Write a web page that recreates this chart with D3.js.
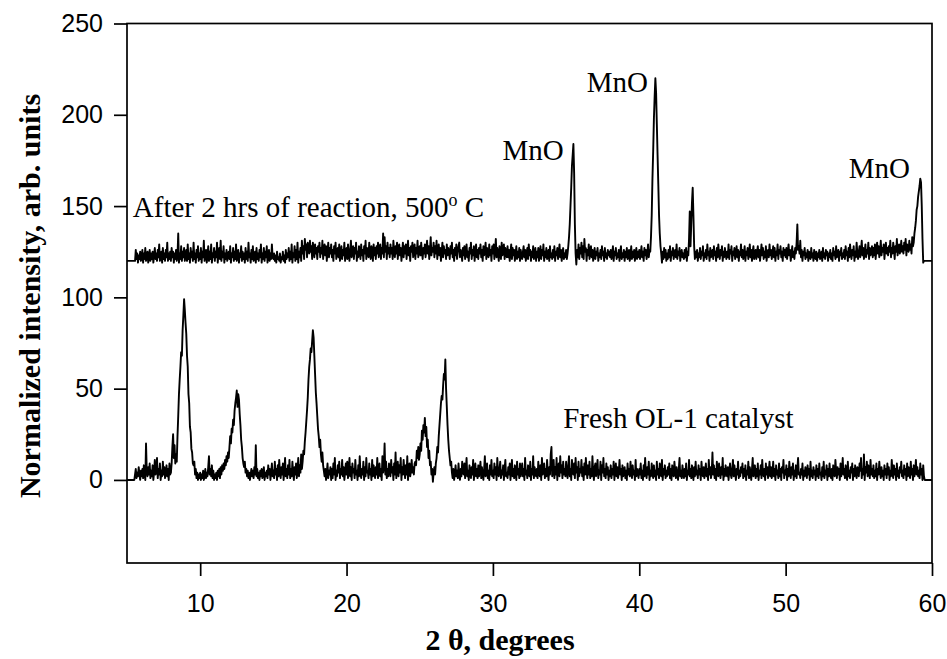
<!DOCTYPE html>
<html>
<head>
<meta charset="utf-8">
<script src="https://d3js.org/d3.v7.min.js"></script>
<style>
  body { margin: 0; background: #fff; }
  .tick text { font-family: "Liberation Sans", Arial, sans-serif; font-size: 25px; fill: #000; }
  .note { font-family: "Liberation Serif", "Times New Roman", serif; font-size: 29px; fill: #000; }
  .axis-title { font-family: "Liberation Serif", "Times New Roman", serif; font-size: 30px; font-weight: bold; fill: #000; }
</style>
</head>
<body>
<script>
// 2θ grid of the scans: 5.00 .. 60.00 in 0.05 degree steps, one row = one degree
const twoThetaStart = 5, twoThetaStep = 0.05;

// Fresh OL-1 catalyst (normalized intensity)
const freshCatalyst = [
  0,0,0,0,0,0,0,0,0,0,0,3,6,1,4,2,7,3,0,5,            // 5
  2,6,1,8,4,0,20,5,2,7,3,9,1,5,2,8,0,4,11,3,          // 6
  4,12,1,6,3,9,0,5,2,10,3,7,1,4,8,2,6,0,9,3,          // 7
  4,9,18,25,12,19,9,14,10,24,35,47,55,62,70,68,82,90,99,93, // 8
  86,80,68,62,47,42,29,26,17,15,9,8,10,3,6,1,4,0,3,1, // 9
  4,0,3,1,5,0,2,6,1,4,2,7,13,3,6,2,8,1,5,0,           // 10
  3,1,4,0,5,2,6,1,7,3,8,5,9,6,11,8,13,10,15,12,       // 11
  18,24,20,28,26,33,30,38,42,45,49,40,47,44,36,30,22,18,12,9, // 12
  7,10,4,6,2,5,1,4,0,3,6,2,5,1,7,3,19,2,6,1,          // 13
  4,0,5,2,6,1,3,7,0,4,2,5,1,8,3,6,0,4,9,2,            // 14
  5,1,10,3,6,0,8,2,11,4,1,7,3,9,0,5,12,2,6,1,         // 15
  8,3,11,1,6,2,10,4,0,7,3,9,1,5,12,2,8,4,14,6,        // 16
  10,16,14,21,26,32,38,45,55,62,66,72,70,76,82,78,68,58,48,42, // 17
  35,28,24,18,22,14,10,15,8,5,2,6,0,4,9,1,5,3,7,0,    // 18
  6,1,9,3,12,0,5,2,8,4,10,1,6,3,11,2,7,0,4,9,         // 19
  3,10,1,5,12,2,7,0,9,4,6,1,11,3,5,0,8,2,13,4,        // 20
  1,6,3,10,0,7,2,12,4,5,1,9,3,6,0,11,2,8,4,1,         // 21
  7,3,12,1,5,9,2,6,0,13,4,8,20,3,10,1,6,2,9,5,        // 22
  2,11,4,7,0,9,3,15,1,6,10,2,8,4,12,0,7,3,11,5,       // 23
  1,8,3,13,0,6,9,2,5,11,4,7,3,9,10,8,16,12,18,11,     // 24
  14,20,16,27,22,30,26,34,24,29,18,22,12,16,8,10,3,6,-1,4, // 25
  7,3,9,12,18,15,24,30,36,42,46,44,52,58,55,66,50,40,30,22, // 26
  16,12,8,10,4,1,6,0,3,8,2,5,1,9,3,0,6,2,10,4,        // 27
  3,9,1,6,12,2,5,0,8,4,1,7,3,11,0,5,9,2,6,1,          // 28
  8,2,5,10,1,7,3,0,6,13,2,4,9,1,5,0,8,3,11,2,         // 29
  5,1,9,3,7,0,12,4,2,6,10,1,5,3,8,0,6,11,2,4,         // 30
  1,7,3,9,0,5,11,2,6,1,8,4,0,10,3,6,1,9,2,5,          // 31
  9,2,6,0,12,3,5,1,8,4,2,10,0,6,3,13,1,7,4,2,         // 32
  6,1,10,4,2,8,0,12,3,5,9,1,6,2,11,4,0,7,3,14,        // 33
  18,2,5,11,1,7,3,12,0,6,9,2,13,4,8,1,10,3,6,2,       // 34
  10,4,1,8,13,2,6,0,11,5,3,9,1,12,4,7,0,10,2,6,       // 35
  4,11,2,7,0,9,3,12,5,1,8,3,10,1,6,2,13,4,0,7,        // 36
  9,2,6,11,1,5,3,10,0,8,4,12,2,6,1,9,3,7,0,5,         // 37
  2,8,1,6,3,10,0,5,9,2,7,1,4,11,3,6,0,8,2,5,          // 38
  7,1,5,0,9,3,6,2,10,4,1,8,3,5,0,11,2,6,4,1,          // 39
  6,3,9,1,5,0,8,2,12,4,1,7,3,10,0,5,2,9,4,1,          // 40
  8,2,5,0,10,3,6,1,9,4,2,11,0,6,3,8,1,5,2,7,          // 41
  3,9,1,6,0,8,4,2,10,5,1,7,3,0,6,12,2,5,1,8,          // 42
  4,1,6,2,9,0,5,3,11,2,6,1,8,4,0,7,2,10,3,5,          // 43
  1,8,3,6,0,10,4,2,7,1,5,9,2,6,0,11,3,7,1,4,          // 44
  15,3,8,1,6,0,10,4,2,9,5,1,7,3,12,0,6,2,8,4,         // 45
  2,7,0,5,9,3,1,6,11,2,8,4,0,6,3,10,1,5,2,7,          // 46
  4,9,1,6,2,8,0,5,3,10,1,7,4,0,6,12,2,5,8,1,          // 47
  6,2,9,0,5,3,8,1,11,4,2,6,0,9,3,7,1,5,10,2,          // 48
  7,1,4,10,2,6,0,8,3,5,1,9,2,6,0,7,4,11,1,5,          // 49
  3,8,0,6,2,10,4,1,7,3,9,0,5,2,8,1,6,12,3,4,          // 50
  1,6,3,9,0,5,2,7,4,1,8,3,6,0,10,2,5,1,7,3,           // 51
  5,0,8,2,6,1,9,3,4,0,7,2,10,1,5,3,8,0,6,2,           // 52
  9,3,1,6,0,8,4,2,11,5,1,7,3,6,0,9,2,5,12,3,          // 53
  6,1,8,3,0,10,2,5,1,7,4,9,0,6,2,8,3,1,7,4,           // 54
  2,9,5,12,1,6,3,14,0,7,4,10,2,8,5,1,11,3,6,2,        // 55
  8,1,5,2,9,0,6,3,10,4,1,7,2,5,0,8,3,6,1,9,           // 56
  3,7,0,5,2,11,4,1,8,3,6,0,9,2,5,1,7,4,10,2,          // 57
  5,1,8,3,6,0,9,2,7,4,1,10,3,6,0,8,2,5,11,3,          // 58
  7,2,5,1,9,3,6,0,8,2,0,0,0,0,0,0,0,0,0,0,            // 59
  0                                                   // 60
];

// After 2 hrs of reaction, 500 C (trace sits at 120 in the figure)
const afterReaction = [
  120,120,120,120,120,120,120,120,120,120,120,120,126,121,124,119,123,121,125,120, // 5
  122,126,119,124,121,127,120,123,125,119,122,126,120,124,121,125,119,123,127,121, // 6
  124,120,126,122,129,120,123,125,119,127,121,124,120,126,122,130,120,124,121,125, // 7
  120,127,122,125,119,124,121,126,120,123,135,119,124,121,128,120,125,122,127,120, // 8
  123,126,120,129,121,124,119,127,122,125,120,130,121,124,119,126,122,128,120,124, // 9
  121,127,119,125,122,131,120,124,126,119,123,128,120,125,121,129,119,124,122,127, // 10
  120,125,122,130,119,124,127,121,131,120,125,122,128,119,124,121,126,120,123,125, // 11
  121,128,119,124,122,127,120,125,121,129,120,123,126,119,124,122,128,120,125,121, // 12
  124,119,127,121,125,120,130,122,124,119,126,121,128,120,123,125,119,127,121,124, // 13
  120,126,122,129,119,124,121,127,120,125,122,128,119,123,126,120,124,121,129,122, // 14
  121,124,120,123,119,125,121,122,120,124,119,122,121,125,120,123,119,126,121,124, // 15
  122,127,120,125,121,129,119,124,122,128,120,126,121,130,119,125,122,127,120,131, // 16
  124,128,121,132,126,129,122,130,127,124,131,125,128,121,130,126,122,129,124,127, // 17
  121,128,125,130,122,127,124,131,121,126,129,123,128,120,125,130,122,127,124,129, // 18
  122,126,120,128,124,130,121,125,127,122,129,120,124,128,121,126,123,130,120,125, // 19
  127,121,129,124,120,126,131,122,125,128,121,127,124,130,120,125,122,128,126,121, // 20
  129,123,126,120,128,124,131,121,127,125,122,130,124,121,128,126,120,129,123,127, // 21
  121,128,124,130,122,126,129,121,127,124,135,122,133,125,128,121,130,124,127,122, // 22
  129,124,127,121,131,125,122,128,124,130,121,126,129,123,127,120,125,130,122,128, // 23
  124,129,121,126,131,123,127,120,128,125,130,122,126,129,121,127,124,131,122,126, // 24
  128,123,130,125,121,127,124,129,122,126,131,124,128,121,126,133,123,127,125,130, // 25
  122,128,124,131,121,126,129,123,127,120,125,130,122,128,124,126,121,129,123,127, // 26
  125,121,128,124,130,122,126,120,127,123,129,121,125,128,130,122,126,124,120,127, // 27
  123,128,121,126,129,122,125,120,127,124,130,121,126,123,128,120,125,129,122,126, // 28
  121,127,124,129,122,126,120,128,123,125,130,121,127,124,122,129,123,126,120,128, // 29
  124,129,121,126,132,122,127,124,120,128,125,121,130,123,126,129,121,127,124,122, // 30
  128,122,126,120,125,129,121,127,123,126,120,124,128,121,125,122,127,120,126,123, // 31
  121,125,128,122,126,120,124,127,121,129,123,126,120,125,122,128,121,124,127,120, // 32
  125,122,127,120,124,128,121,126,123,129,120,125,122,127,121,124,126,120,128,122, // 33
  124,121,126,122,128,120,125,123,127,121,124,129,122,126,120,125,127,121,124,122, // 34
  126,121,124,128,133,140,150,160,172,178,184,168,140,124,118,126,122,129,121,127, // 35
  124,130,122,128,121,132,125,127,120,126,123,129,121,125,128,122,126,120,124,127, // 36
  121,125,123,127,120,124,122,126,121,128,123,125,120,127,122,124,121,126,123,125, // 37
  122,126,121,124,128,120,125,123,127,121,124,122,126,120,125,128,121,124,122,126, // 38
  120,125,122,127,121,124,126,120,123,128,121,125,122,126,120,124,127,121,125,122, // 39
  126,121,124,128,122,125,120,127,123,126,121,124,129,122,126,125,133,145,165,180, // 40
  198,210,220,212,195,178,162,145,135,128,124,119,125,121,127,122,126,120,124,121, // 41
  126,122,128,120,125,123,127,121,124,126,122,129,121,125,123,127,120,124,126,122, // 42
  124,121,126,122,127,120,125,123,132,147,128,140,152,160,145,128,121,125,122,126, // 43
  120,124,122,127,121,125,123,128,120,124,122,126,121,129,123,125,120,127,122,124, // 44
  126,121,128,123,125,120,127,122,129,124,121,126,123,128,120,125,122,127,124,121, // 45
  125,122,129,121,126,124,128,120,125,123,127,121,124,128,122,126,120,125,123,129, // 46
  122,126,121,124,128,120,125,123,127,121,124,129,122,126,120,125,128,121,124,126, // 47
  121,125,128,122,126,120,124,129,123,127,121,125,122,128,120,124,126,122,129,123, // 48
  126,121,124,128,122,127,120,125,123,129,121,126,124,128,122,125,120,127,123,126, // 49
  122,127,121,125,129,123,126,120,124,128,122,125,121,127,124,130,140,126,128,124, // 50
  131,122,126,120,125,123,127,121,124,122,126,120,125,123,121,127,122,124,120,126, // 51
  123,121,125,120,124,122,126,121,123,125,120,127,122,124,121,126,123,125,120,124, // 52
  122,126,121,124,120,127,123,125,121,128,122,124,126,120,125,123,127,121,124,122, // 53
  126,121,128,123,125,120,127,122,129,124,121,126,123,128,120,125,122,130,124,121, // 54
  125,128,122,126,131,123,127,121,125,129,122,126,124,130,121,127,123,125,128,122, // 55
  127,123,129,121,126,130,124,128,122,125,131,123,127,125,129,121,126,130,124,127, // 56
  123,128,125,131,122,127,124,130,126,121,128,125,132,123,127,129,124,126,131,125, // 57
  128,124,130,126,132,123,129,127,125,131,126,129,124,133,128,130,135,138,142,148, // 58
  150,155,158,161,165,163,150,132,119,120,120,120,120,120,120,120,120,120,120,120, // 59
  120                                                                              // 60
];

const xTicks = [10, 20, 30, 40, 50, 60];
const yTicks = [0, 50, 100, 150, 200, 250];

// text annotations in data units [2θ, intensity]
const mnoLabels = [[32.75, 175], [38.5, 212.5], [56.4, 165.5]];
const reactionLabel = { text: "After 2 hrs of reaction, 500", at: [5.4, 144] };
const freshLabel = { text: "Fresh OL-1 catalyst", at: [34.8, 28.5] };

const W = 947, H = 659;
const margin = { top: 23.5, right: 15, bottom: 96, left: 127 };

const svg = d3.select("body").append("svg")
    .attr("width", W)
    .attr("height", H);

const x = d3.scaleLinear()
    .domain([5, 60])
    .range([margin.left, W - margin.right]);

const y = d3.scaleLinear()
    .domain([-45.5, 250])
    .range([H - margin.bottom, margin.top]);

const toPoints = arr => arr.map((v, i) => [twoThetaStart + i * twoThetaStep, v]);

const line = d3.line()
    .x(d => x(d[0]))
    .y(d => y(d[1]));

// frame
svg.append("rect")
    .attr("x", x(5)).attr("y", y(250))
    .attr("width", x(60) - x(5)).attr("height", y(-45.5) - y(250))
    .attr("fill", "none").attr("stroke", "#000").attr("stroke-width", 1.7);

svg.append("g")
    .attr("transform", `translate(0,${y(-45.5)})`)
    .call(d3.axisBottom(x).tickValues(xTicks).tickSize(13).tickSizeOuter(0).tickPadding(18))
    .call(g => g.select(".domain").remove())
    .call(g => g.selectAll(".tick line").attr("stroke-width", 1.7));

svg.append("g")
    .attr("transform", `translate(${x(5)},0)`)
    .call(d3.axisLeft(y).tickValues(yTicks).tickSize(13).tickSizeOuter(0).tickPadding(11))
    .call(g => g.select(".domain").remove())
    .call(g => g.selectAll(".tick line").attr("stroke-width", 1.7));

// traces
[freshCatalyst, afterReaction].forEach(series => {
  svg.append("path")
      .datum(toPoints(series))
      .attr("d", line)
      .attr("fill", "none")
      .attr("stroke", "#000")
      .attr("stroke-width", 1.9)
      .attr("stroke-linejoin", "round");
});

// annotations
svg.selectAll("text.mno")
  .data(mnoLabels)
  .join("text")
    .attr("class", "note mno")
    .attr("x", d => x(d[0]))
    .attr("y", d => y(d[1]))
    .attr("text-anchor", "middle")
    .text("MnO");

const rl = svg.append("text")
    .attr("class", "note")
    .attr("x", x(reactionLabel.at[0]))
    .attr("y", y(reactionLabel.at[1]))
    .text(reactionLabel.text);
rl.append("tspan").attr("dy", -11).attr("font-size", 18).text("o");
rl.append("tspan").attr("dy", 11).text(" C");

svg.append("text")
    .attr("class", "note")
    .attr("x", x(freshLabel.at[0]))
    .attr("y", y(freshLabel.at[1]))
    .text(freshLabel.text);

// axis titles
svg.append("text")
    .attr("class", "axis-title")
    .attr("transform", "translate(40,296) rotate(-90)")
    .attr("text-anchor", "middle")
    .text("Normalized intensity, arb. units");

svg.append("text")
    .attr("class", "axis-title")
    .attr("x", 500)
    .attr("y", 650)
    .attr("text-anchor", "middle")
    .text("2 θ, degrees");
</script>
</body>
</html>
